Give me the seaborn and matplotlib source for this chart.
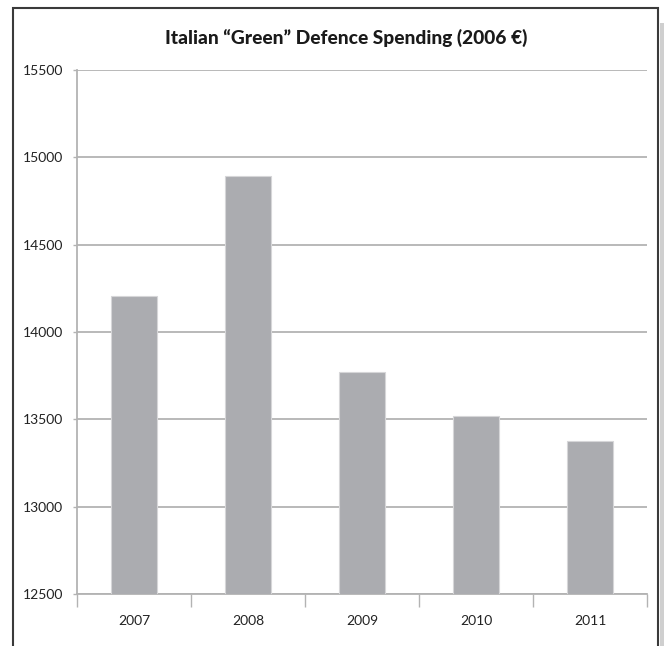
import matplotlib
matplotlib.use("Agg")
import matplotlib.pyplot as plt
import matplotlib.patches as mpatches
import seaborn as sns
import pandas as pd
import numpy as np

years = ["2007", "2008", "2009", "2010", "2011"]
spending = [14206, 14895, 13771, 13520, 13375]
y_ticks = [12500, 13000, 13500, 14000, 14500, 15000, 15500]
title = "Italian \u201cGreen\u201d Defence Spending (2006\u202f\u20ac)"

sns.set_theme(style="white")
plt.rcParams["font.family"] = ["Lato", "DejaVu Sans"]

W, H = 664, 646
fig = plt.figure(figsize=(W / 100, H / 100), dpi=100)
ax = fig.add_axes([77 / W, 1 - 594 / H, (647 - 77) / W, (594 - 70) / H])

df = pd.DataFrame({"year": years, "spending": spending})
sns.barplot(data=df, x="year", y="spending", order=years, color="#abacb0",
            width=0.4, edgecolor="#d6d6d8", linewidth=0.8, saturation=1,
            ax=ax, zorder=3)

grid_col = "#b3b3b3"
ax.set_ylim(12500, 15500)
ax.set_xlim(-0.5, len(years) - 0.5)
ax.set_yticks(y_ticks)
ax.set_yticklabels([str(v) for v in y_ticks])
ax.yaxis.grid(True, color=grid_col, linewidth=1.3, zorder=0)
ax.set_axisbelow(True)
ax.set_xlabel("")
ax.set_ylabel("")

for s in ["top", "right"]:
    ax.spines[s].set_visible(False)
for s in ["left", "bottom"]:
    ax.spines[s].set_color(grid_col)
    ax.spines[s].set_linewidth(1.3)

ax.tick_params(axis="y", which="major", length=3, width=1.0, color=grid_col,
               direction="out", labelsize=10, labelcolor="#222222", pad=7, left=True)
ax.tick_params(axis="x", which="major", length=0, labelsize=10,
               labelcolor="#222222", pad=15)
ax.set_xticks(np.arange(-0.5, len(years)), minor=True)
ax.tick_params(axis="x", which="minor", length=9, width=1.0, color=grid_col,
               direction="out", bottom=True)

fig.text(346 / W, 1 - 38 / H, title, ha="center", va="center",
         fontsize=13.8, fontweight="black", color="#1a1a1a")

# frame and drop shadow around the chart
fig.patches.append(mpatches.Rectangle((660 / W, -0.01), 4 / W, 1 - 23 / H + 0.01,
                                      transform=fig.transFigure, facecolor="#cfcfcf",
                                      edgecolor="none", zorder=0))
fig.patches.append(mpatches.Rectangle((13 / W, -0.02), (658 - 13) / W, 1 - 7.5 / H + 0.02,
                                      transform=fig.transFigure, facecolor="none",
                                      edgecolor="#3a3a3a", linewidth=1.5, zorder=5))

fig.savefig("out.png", dpi=100)
